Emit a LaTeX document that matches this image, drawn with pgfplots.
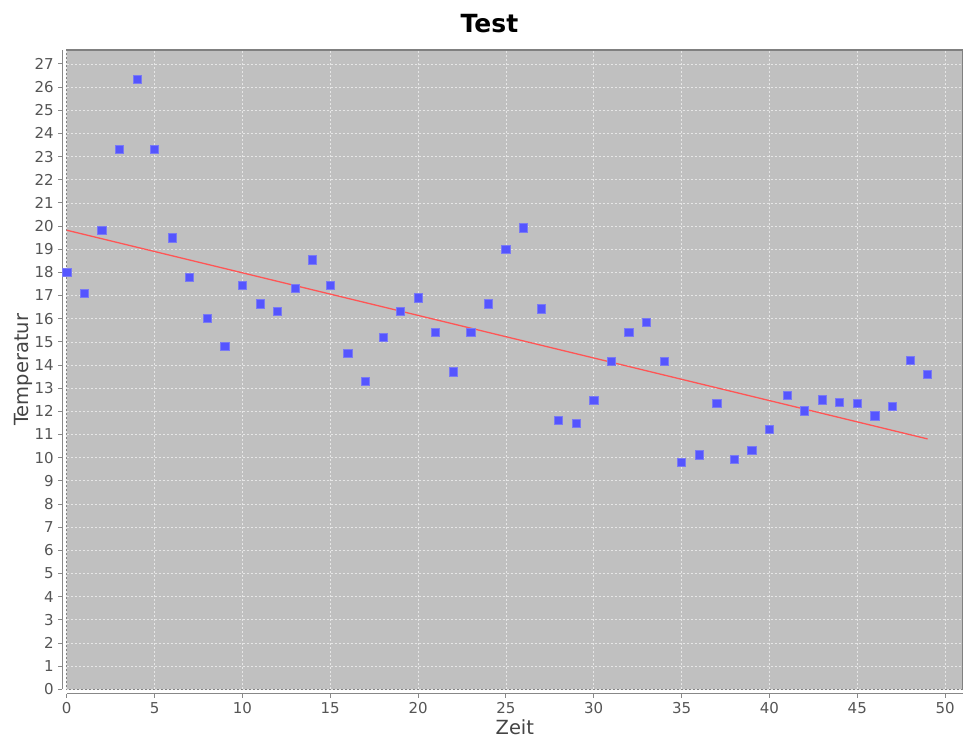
\documentclass[border=0pt]{standalone}
\usepackage{pgfplots}
\pgfplotsset{compat=1.18}
\usepackage{fontspec}
\setmainfont{DejaVu Sans}

\definecolor{plotbg}{HTML}{C0C0C0}
\definecolor{plotframe}{HTML}{808080}
\definecolor{axisgray}{HTML}{888888}
\definecolor{gridgray}{HTML}{E6E6E6}
\definecolor{ticktext}{HTML}{555555}
\definecolor{labeltext}{HTML}{444444}
\definecolor{pointblue}{HTML}{5555FF}
\definecolor{pointedge}{HTML}{7A7AF5}
\definecolor{fitred}{HTML}{FF5555}

% measured temperatures
\pgfplotstableread{
x y
0 18.0
1 17.1
2 19.8
3 23.3
4 26.32
5 23.3
6 19.49
7 17.8
8 16.0
9 14.82
10 17.43
11 16.64
12 16.31
13 17.31
14 18.54
15 17.43
16 14.51
17 13.3
18 15.21
19 16.31
20 16.9
21 15.41
22 13.71
23 15.41
24 16.64
25 19.01
26 19.92
27 16.43
28 11.6
29 11.5
30 12.49
31 14.15
32 15.41
33 15.83
34 14.15
35 9.8
36 10.12
37 12.35
38 9.92
39 10.33
40 11.23
41 12.71
42 12.02
43 12.5
44 12.39
45 12.35
46 11.81
47 12.23
48 14.19
49 13.61
}\messwerte

\begin{document}
\begin{tikzpicture}[x=1pt,y=1pt]
\useasboundingbox (0,0) rectangle (963,740);
\node[font=\fontsize{25}{30}\selectfont\bfseries, text=black] at (489.5,716.5) {Test};
\begin{axis}[
  at={(66.7pt,50.7pt)}, anchor=south west,
  scale only axis,
  width=896.3pt, height=639.3pt,
  xmin=0, xmax=51.02,
  ymin=0, ymax=27.6,
  xtick={0,5,...,50},
  ytick={0,1,...,27},
  axis x line=bottom, axis y line=left,
  axis x line shift=4.5pt, axis y line shift=4.5pt,
  axis line style={-, draw=axisgray, line width=1pt},
  tick align=outside,
  major tick length=4pt,
  tick style={draw=axisgray, line width=0.8pt},
  axis background/.style={fill=plotbg, draw=plotframe, line width=1.2pt},
  grid=major,
  major grid style={draw=gridgray, line width=0.7pt, dash pattern=on 2pt off 2pt},
  /pgf/number format/assume math mode=true,
  ticklabel style={font=\fontsize{15}{18}\selectfont, text=ticktext},
  xticklabel style={yshift=-1pt},
  yticklabel style={xshift=-1pt},
  xlabel={Zeit}, ylabel={Temperatur},
  label style={font=\fontsize{19.5}{23}\selectfont, text=labeltext},
  xlabel style={at={(0.5,0)}, yshift=-27pt, anchor=north},
  ylabel style={at={(0,0.5)}, yshift=31pt},
  clip=false,
]
\addplot[only marks, mark=square*, mark size=4.1pt,
  mark options={fill=pointblue, draw=pointedge, line width=0.6pt}]
  table[x=x, y=y] {\messwerte};
% linear regression line
\addplot[fitred, line width=1.3pt] coordinates {(0,19.82) (49,10.81)};
\end{axis}
\end{tikzpicture}
\end{document}
